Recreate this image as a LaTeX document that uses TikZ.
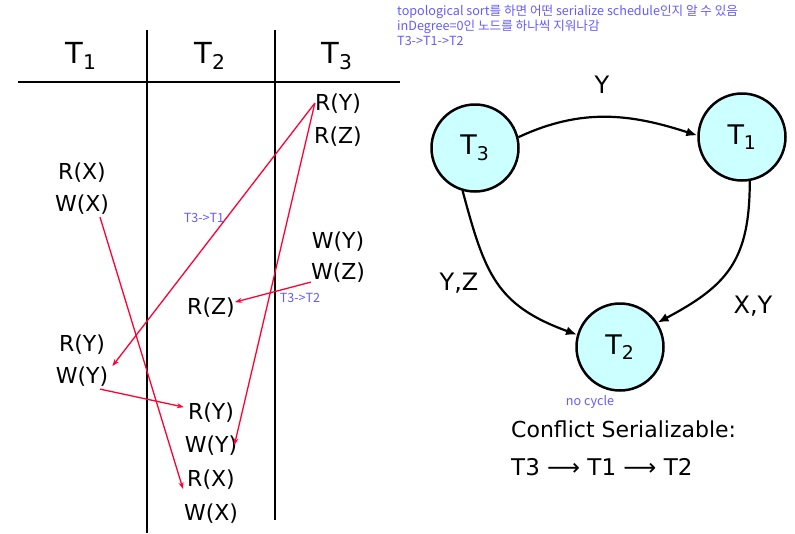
\documentclass[tikz,border=0pt]{standalone}
\usepackage{fontspec}
\setmainfont{DejaVu Sans}
\newfontfamily\kr{Noto Sans CJK KR}
\usetikzlibrary{arrows.meta}
\definecolor{annot}{RGB}{100,90,255}
\definecolor{redarr}{RGB}{255,0,51}
\definecolor{nodefill}{RGB}{204,255,255}
\begin{document}
\begin{tikzpicture}[x=1pt,y=-1pt,
  op/.style={inner sep=0pt, anchor=base, font=\fontsize{22}{24}\selectfont},
  hdr/.style={inner sep=0pt, anchor=base, font=\fontsize{29}{32}\selectfont},
  note/.style={inner sep=0pt, text=annot, font=\kr\fontsize{12.6}{14}\selectfont},
  rarr/.style={draw=redarr, line width=1.3pt, -{Stealth[length=7pt,width=5pt]}},
  tnode/.style={circle, draw, line width=2.5pt, fill=nodefill, minimum size=87pt, inner sep=0pt, font=\fontsize{27}{30}\selectfont},
  gedge/.style={line width=2.2pt, -{Latex[length=11pt,width=9pt]}},
  glabel/.style={inner sep=0pt, anchor=base, font=\fontsize{24}{26}\selectfont},
  tline/.style={line width=2pt},
  big/.style={inner sep=0pt, anchor=base west, font=\fontsize{22}{24}\selectfont}
]
\useasboundingbox (0,0) rectangle (795,533);
% table
\draw[tline] (18,82) -- (400,82);
\draw[tline] (147,30) -- (147,533);
\draw[tline] (275,30) -- (275,520);
\node[hdr] (h1) at (81,63) {T\textsubscript{1}};
\node[hdr] (h2) at (210,63) {T\textsubscript{2}};
\node[hdr] (h3) at (337,63) {T\textsubscript{3}};
% operations
\node[op] (t3ry) at (338,110) {R(Y)};
\node[op] (t3rz) at (338,143) {R(Z)};
\node[op] (t1rx) at (82,179) {R(X)};
\node[op] (t1wx) at (82,211) {W(X)};
\node[op] (t3wy) at (338,248) {W(Y)};
\node[op] (t3wz) at (338,279) {W(Z)};
\node[op] (t2rz) at (211,314) {R(Z)};
\node[op] (t1ry) at (82,351) {R(Y)};
\node[op] (t1wy) at (82,383) {W(Y)};
\node[op] (t2ry) at (211,419) {R(Y)};
\node[op] (t2wy) at (211,452) {W(Y)};
\node[op] (t2rx) at (211,486) {R(X)};
\node[op] (t2wx) at (211,520) {W(X)};
% red conflict arrows
\draw[rarr] (t3ry.west) -- ([xshift=4pt]t1wy.north east);
\draw[rarr] (t3ry.west) -- ([xshift=-3pt]t2wy.east);
\draw[rarr] (t3wz.south west) -- ([yshift=5pt]t2rz.east);
\draw[rarr] ([xshift=18pt,yshift=-3pt]t1wx.south) -- ([xshift=-4pt]t2rx.south west);
\draw[rarr] ([xshift=18pt,yshift=-3pt]t1wy.south) -- ([xshift=-4pt,yshift=5pt]t2ry.west);
\node[note] (l31) at (204,218) {T3->T1};
\node[note] (l32) at (300,298) {T3->T2};
% annotations
\node[note, anchor=west] (n1) at (397,12) {topological sort를 하면 어떤 serialize schedule인지 알 수 있음};
\node[note, anchor=west] (n2) at (397,27) {inDegree=0인 노드를 하나씩 지워나감};
\node[note, anchor=west] (n3) at (397,41) {T3->T1->T2};
% precedence graph
\node[tnode] (T3) at (475,148) {T\textsubscript{3}};
\node[tnode] (T1) at (742,137) {T\textsubscript{1}};
\node[tnode] (T2) at (620,347) {T\textsubscript{2}};
\draw[gedge] (T3.14) to[out=25,in=162] (T1.178);
\draw[gedge] (T3.254) to[out=-75,in=160,looseness=1.2] (T2.164);
\draw[gedge] (T1.280) to[out=-90,in=28,looseness=1.2] (T2.33);
\node[glabel] (ly) at (602,93) {Y};
\node[glabel] (lyz) at (459,290) {Y,Z};
\node[glabel] (lxy) at (753,313) {X,Y};
\node[note] (nc) at (590,402) {no cycle};
\node[big] (cs) at (511,437) {Conflict Serializable:};
\node[big, font=\fontsize{23}{25}\selectfont] (ord) at (511,475) {T3 ⟶ T1 ⟶ T2};
\end{tikzpicture}
\end{document}
